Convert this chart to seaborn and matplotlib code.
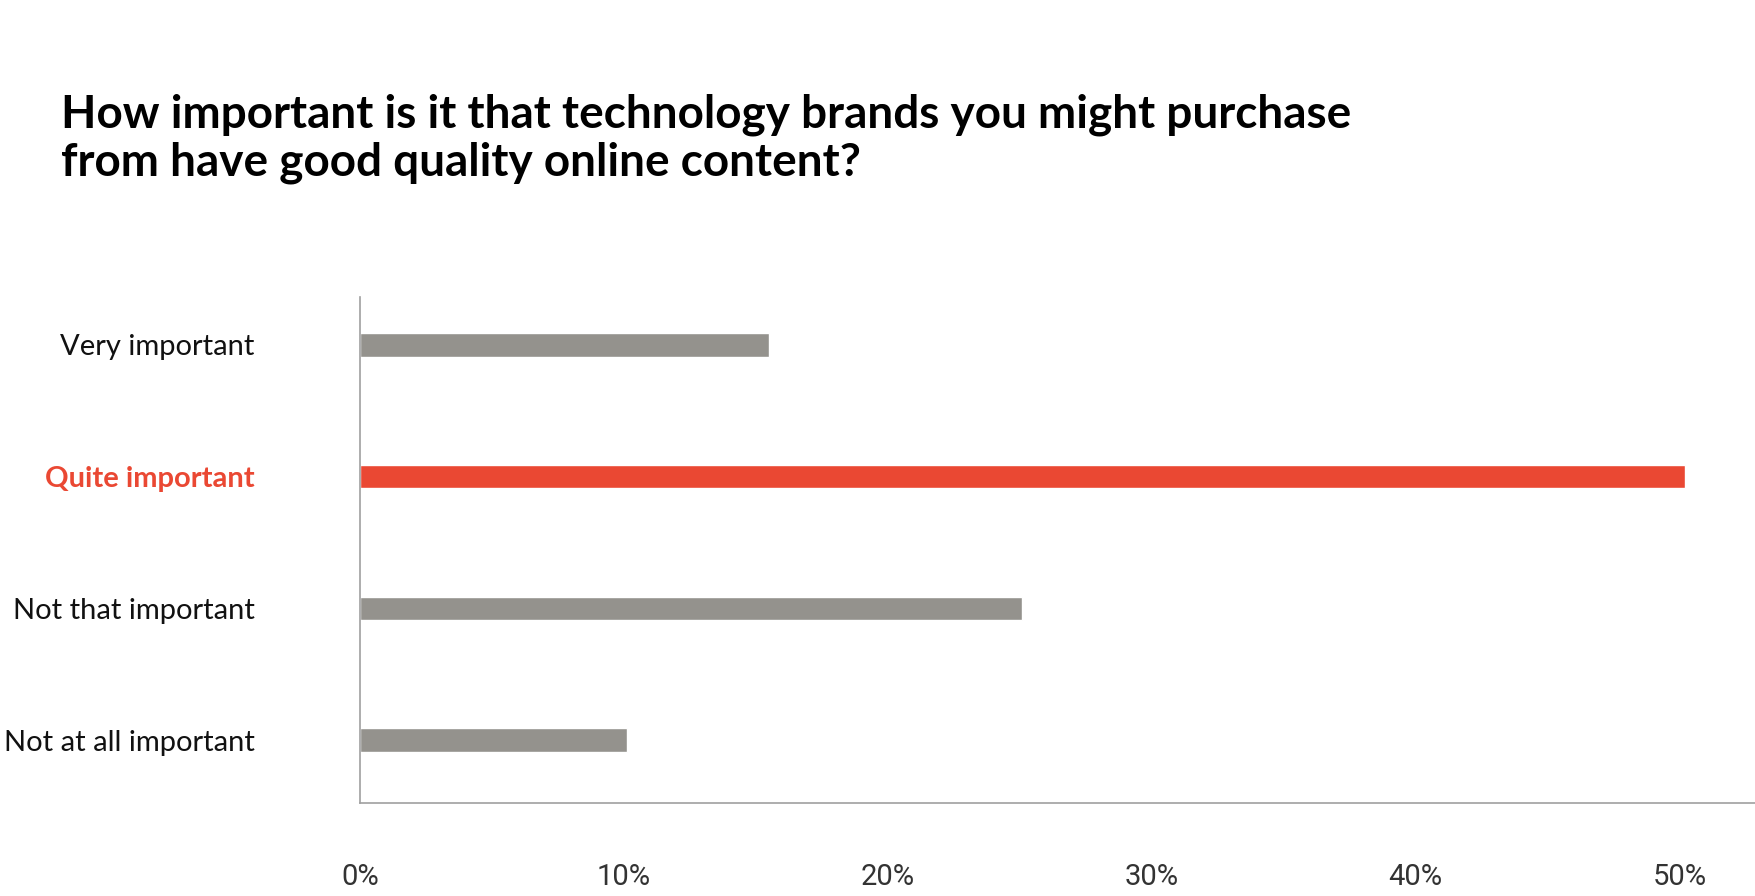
import matplotlib
matplotlib.use('Agg')
import matplotlib.pyplot as plt
import seaborn as sns
import pandas as pd

# Dados
categorias = ['Very important', 'Quite important', 'Not that important', 'Not at all important']
percentagens = [15.5, 50.2, 25.1, 10.1]
destaque = 'Quite important'
ticks_x = [0, 10, 20, 30, 40, 50]
tick_labels = ['0%', '10%', '20%', '30%', '40%', '50%']
titulo_linhas = ['How important is it that technology brands you might purchase',
                 'from have good quality online content?']

cinza = '#94928D'
vermelho = '#EA4833'

df = pd.DataFrame({'categoria': categorias, 'valor': percentagens})
cores = {c: (vermelho if c == destaque else cinza) for c in categorias}

sns.set_style('white')
plt.rcParams['font.family'] = ['Lato', 'DejaVu Sans']

fig = plt.figure(figsize=(17.56, 8.96), dpi=100)
ax = fig.add_axes([360 / 1756, 1 - 803 / 896, 1 - 360 / 1756, (803 - 297) / 896])

sns.barplot(data=df, x='valor', y='categoria', hue='categoria', palette=cores,
            order=categorias, orient='h', width=0.178, legend=False, ax=ax,
            saturation=1)

ax.set_xlim(0, 52.9)
ax.set_ylim(3.478, -0.364)
ax.set_xticks(ticks_x)
ax.set_xticklabels(tick_labels, fontsize=21, color='#333333', family=['Roboto', 'DejaVu Sans'])
ax.tick_params(axis='x', length=0, pad=43)
ax.tick_params(axis='y', length=0, pad=76, labelsize=21)
ax.set_xlabel('')
ax.set_ylabel('')

for lbl in ax.get_yticklabels():
    if lbl.get_text() == destaque:
        lbl.set_color(vermelho)
        lbl.set_fontweight('bold')
    else:
        lbl.set_color('#111111')

sns.despine(ax=ax, top=True, right=True)
for s in ['left', 'bottom']:
    ax.spines[s].set_color('#A0A0A0')
    ax.spines[s].set_linewidth(1.2)

# titulo em duas linhas (baselines a 128 e 176 px)
for i, linha in enumerate(titulo_linhas):
    fig.text(61 / 1756, 1 - (128 + 48 * i) / 896, linha, fontsize=33, fontweight='bold',
             color='#000000', va='baseline', ha='left')

fig.savefig('out.png', dpi=100)
